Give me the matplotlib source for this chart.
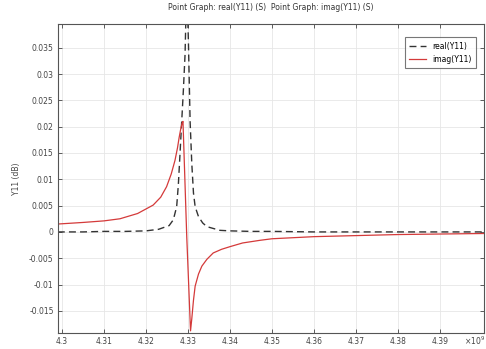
import matplotlib.pyplot as plt

# frequency in units of 1e9 Hz
freq_real = [4.299, 4.305, 4.31, 4.315, 4.32, 4.323, 4.3255, 4.3265, 4.3273, 4.3277,
             4.3281, 4.3285, 4.3289, 4.3293, 4.3297, 4.3301, 4.3305, 4.3309, 4.3313,
             4.3317, 4.3325, 4.3335, 4.3345, 4.3376, 4.34, 4.345, 4.35, 4.36, 4.38, 4.4005]
real_y11 = [0.0, 0.0, 0.0001, 0.0001, 0.0002, 0.0005, 0.0012, 0.0023, 0.0048, 0.009,
            0.0149, 0.021, 0.027, 0.0338, 0.048, 0.036, 0.021, 0.013, 0.0074,
            0.0048, 0.0029, 0.0017, 0.001, 0.0003, 0.0002, 0.0001, 0.0001, 0.0, 0.0, 0.0]

freq_imag = [4.299, 4.305, 4.31, 4.3138, 4.318, 4.3217, 4.3235, 4.3249, 4.326, 4.3269,
             4.3275, 4.3279, 4.3283, 4.3286, 4.3288, 4.3297, 4.3306, 4.3309, 4.3313,
             4.3317, 4.3325, 4.3333, 4.3345, 4.336, 4.338, 4.34, 4.343, 4.3471, 4.35,
             4.36, 4.37, 4.38, 4.39, 4.4005]
imag_y11 = [0.0015, 0.0018, 0.0021, 0.0025, 0.0035, 0.0051, 0.0066, 0.0086, 0.011, 0.0136,
            0.016, 0.018, 0.0197, 0.0207, 0.021, -0.0009, -0.0188, -0.0165, -0.013,
            -0.0103, -0.008, -0.0065, -0.0052, -0.004, -0.0033, -0.0028, -0.0021, -0.0016,
            -0.0013, -0.0009, -0.0007, -0.0005, -0.0004, -0.0003]

x_ticks = [4.3, 4.31, 4.32, 4.33, 4.34, 4.35, 4.36, 4.37, 4.38, 4.39]
y_ticks = [0.035, 0.03, 0.025, 0.02, 0.015, 0.01, 0.005, 0, -0.005, -0.01, -0.015]

plt.rcParams['font.family'] = 'DejaVu Sans'
fig = plt.figure(figsize=(4.86, 3.49), dpi=100)
ax = fig.add_axes([0.119, 0.046, 0.877, 0.885])

ax.plot(freq_real, real_y11, color='#333333', lw=1.0, ls=(0, (5, 3)), label='real(Y11)')
ax.plot(freq_imag, imag_y11, color='#d43a3a', lw=0.9, label='imag(Y11)')

ax.set_xlim(4.299, 4.4005)
ax.set_ylim(-0.0192, 0.0395)
ax.set_xticks(x_ticks)
ax.set_xticklabels([f'{t:g}' for t in x_ticks])
ax.set_yticks(y_ticks)
ax.set_yticklabels([f'{t:g}' for t in y_ticks])
ax.tick_params(direction='in', length=3, width=0.6, labelsize=5.5, colors='#444444',
               top=True, right=True, pad=3)
ax.grid(True, color='#e6e6e6', lw=0.6)
for s in ax.spines.values():
    s.set_color('#555555')
    s.set_linewidth(0.8)

ax.set_ylabel('Y11 (dB)', fontsize=5.5, color='#444444', labelpad=6)
ax.set_title('Point Graph: real(Y11) (S)  Point Graph: imag(Y11) (S)',
             fontsize=5.5, color='#333333', pad=10)
fig.text(0.955, 0.012, '×10$^{9}$', fontsize=5.5, color='#444444')

leg = ax.legend(loc='upper right', fontsize=5.5, frameon=True, fancybox=False,
                edgecolor='#555555', handlelength=2.2, borderpad=0.6,
                bbox_to_anchor=(0.99, 0.97))
leg.get_frame().set_linewidth(0.8)

fig.savefig('out.png', dpi=100)
